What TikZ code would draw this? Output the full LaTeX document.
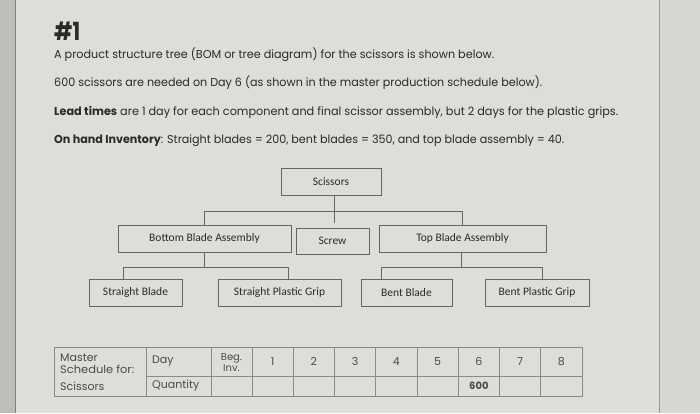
\documentclass[tikz,border=0pt]{standalone}
\usepackage{fontspec}
\usepackage{graphicx}
\setmainfont{Poppins}
\newfontfamily\boxfont{Carlito}
\definecolor{pagebg}{HTML}{DDDED7}
\definecolor{leftbg}{HTML}{BDBEBA}
\definecolor{rightbg}{HTML}{D6D7D1}
\definecolor{txt}{HTML}{2A2A2A}
\definecolor{boxline}{HTML}{666666}
\definecolor{tabline}{HTML}{8A8A8A}
\newcommand{\fitw}[2]{\resizebox{#1}{\height}{#2}}
\begin{document}
\begin{tikzpicture}[x=1pt,y=-1pt,
  bodytext/.style={anchor=base west, inner sep=0, text=txt, font=\fontsize{11.5}{13}\selectfont},
  bomnode/.style={draw=boxline, line width=1pt, inner sep=0, minimum height=27pt, text=txt,
    font=\boxfont\fontsize{11.5}{13}\selectfont},
  conn/.style={draw=boxline, line width=1pt},
  tab/.style={draw=tabline, line width=0.6pt},
  tabtext/.style={inner sep=0, text=txt!85, font=\fontsize{11}{12}\selectfont}]
\useasboundingbox (0,0) rectangle (700,413);
\fill[pagebg] (0,0) rectangle (700,413);
\fill[leftbg] (0,0) rectangle (15,413);
\draw[line width=0.8pt, draw=gray] (15,0) -- (15,413);
\fill[rightbg] (659.5,0) rectangle (700,413);
\draw[line width=0.6pt, draw=gray!80] (659.5,0) -- (659.5,413);

% heading and text
\node[anchor=base west, inner sep=0, text=txt, font=\bfseries\fontsize{25}{28}\selectfont] (title) at (54,40) {\fitw{26pt}{\#1}};
\node[bodytext] (l1) at (54,58) {\fitw{440pt}{A product structure tree (BOM or tree diagram) for the scissors is shown below.}};
\node[bodytext] (l2) at (54,86.7) {\fitw{488pt}{600 scissors are needed on Day 6 (as shown in the master production schedule below).}};
\node[bodytext] (l3) at (54,115) {\fitw{564pt}{\textbf{Lead times} are 1 day for each component and final scissor assembly, but 2 days for the plastic grips.}};
\node[bodytext] (l4) at (54,143.5) {\fitw{510pt}{\textbf{On hand Inventory}: Straight blades = 200, bent blades = 350, and top blade assembly = 40.}};

% BOM tree
\node[bomnode, minimum width=100pt] (sc) at (331,181.5) {Scissors};
\node[bomnode, minimum width=173pt] (bba) at (204.5,238.5) {Bottom Blade Assembly};
\node[bomnode, minimum width=73pt, minimum height=26pt] (screw) at (332.5,241) {Screw};
\node[bomnode, minimum width=167pt] (tba) at (462.5,238.5) {Top Blade Assembly};
\node[bomnode, minimum width=93pt] (sb) at (135.5,292.5) {Straight Blade};
\node[bomnode, minimum width=123pt] (spg) at (279.5,292.5) {Straight Plastic Grip};
\node[bomnode, minimum width=91pt] (bb) at (406.5,292.5) {Bent Blade};
\node[bomnode, minimum width=104pt] (bpg) at (537,292.5) {Bent Plastic Grip};

\coordinate (stub) at (334,223);
\draw[conn] ([xshift=3pt]sc.south) -- (stub);
\draw[conn] (bba.north) -- ++(0,-13.3) -| (tba.north);
\draw[conn] (bba.south) -- ++(0,14.7) coordinate (bj);
\draw[conn] ([xshift=-12.5pt]sb.north) |- (bj) -| ([xshift=8.5pt]spg.north);
\draw[conn] ([xshift=-1.5pt]tba.south) -- ++(0,14.7) coordinate (tj);
\draw[conn] ([xshift=-25.5pt]bb.north) |- (tj) -| ([xshift=5pt]bpg.north);

% master schedule table
\draw[tab] (54,347) rectangle (582,396);
\draw[tab] (146,376) -- (582,376);
\foreach \x in {146,211,252,293.25,334.5,375.75,417,458.25,499.5,540.75}
  \draw[tab] (\x,347) -- (\x,396);
\node[tabtext, anchor=base west] (m1) at (60,361) {Master};
\node[tabtext, anchor=base west] (m2) at (60,373.5) {\fitw{74pt}{Schedule for:}};
\node[tabtext, anchor=base west] (m3) at (60,390) {Scissors};
\node[tabtext, anchor=west] (day) at (152,361.5) {Day};
\node[tabtext, anchor=west] (qty) at (152,386) {Quantity};
\node[tabtext, align=center, font=\fontsize{10}{11.6}\selectfont] (beg) at (231.5,362.5) {Beg.\\Inv.};
\foreach \d [count=\i from 0] in {1,...,8}
  \node[tabtext] (d\d) at (272.6+41.25*\i,361.5) {\d};
\node[tabtext, font=\bfseries\fontsize{10}{11}\selectfont] (q6) at (478.9,386) {600};
\end{tikzpicture}
\end{document}
